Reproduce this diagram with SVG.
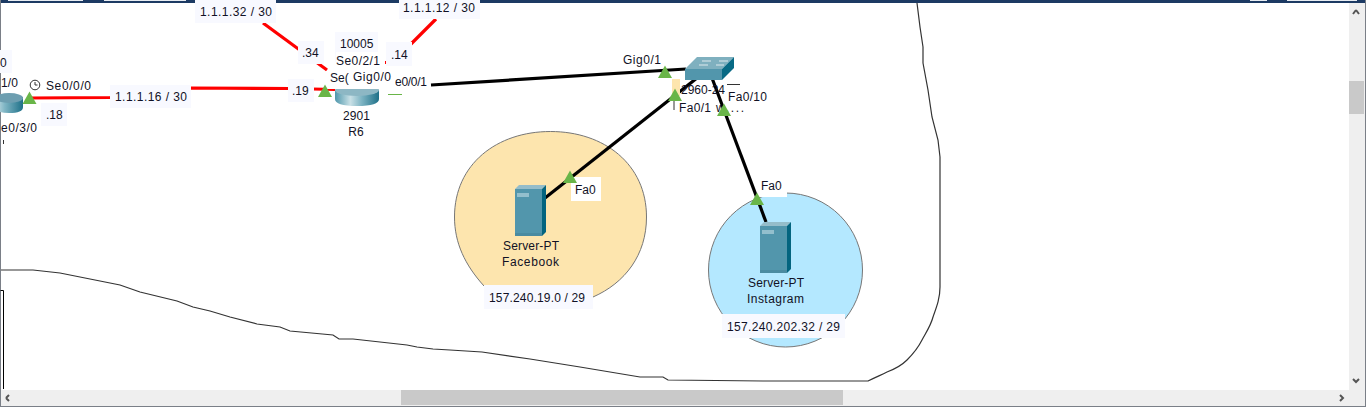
<svg xmlns="http://www.w3.org/2000/svg" width="1366" height="407" viewBox="0 0 1366 407">
<defs>
<linearGradient id="cyl" x1="0" x2="1" y1="0" y2="0"><stop offset="0" stop-color="#4f97ac"/><stop offset="0.35" stop-color="#c9e0e6"/><stop offset="0.6" stop-color="#7fb5c4"/><stop offset="1" stop-color="#1e7088"/></linearGradient>
<linearGradient id="cyl2" x1="0" x2="1" y1="0" y2="0"><stop offset="0" stop-color="#c9e0e6"/><stop offset="0.35" stop-color="#7fb5c4"/><stop offset="1" stop-color="#1e7088"/></linearGradient>
<g id="srv"><rect x="0" y="4" width="27" height="47" fill="#5296ac"/><rect x="0" y="48" width="27" height="3" fill="#4a8ba1"/><path d="M0 4L4 0H31L27 4Z" fill="#95bdca"/><path d="M27 4L31 0V47L27 51Z" fill="#03647f"/><rect x="2" y="8" width="12" height="4" fill="#93bfcd"/></g>
<polygon id="tri" points="-7,6 0,-6.500 7,6" fill="#69b548"/>
</defs>
<style>
text{font-family:"Liberation Sans",Arial,sans-serif;font-size:12px;fill:#111125}
.m{text-anchor:middle}
.red{stroke:#f00;stroke-width:3.200;fill:none}
.blk{stroke:#000;stroke-width:3.200;fill:none}
.lb{fill:#f8f9ff}
.wb{fill:#fff}
</style>
<rect width="1366" height="407" fill="#fff"/>
<g id="window-chrome">
<rect x="0" y="0" width="1366" height="3" fill="#1c3a63"/>
<path d="M8 .5H83M104 .5H186M1250 .5H1267M1287 .5H1357" stroke="#e8edf3"/>
<rect x="1" y="390" width="1364" height="16" fill="#efefef"/>
<rect x="1349" y="3" width="16" height="403" fill="#efefef"/>
<rect x="401" y="390" width="442" height="15" fill="#c9c9c9"/>
<rect x="1349" y="81" width="15" height="33" fill="#c9c9c9"/>
<path d="M6 398L9 395M6 398L9 401M1356 10L1353 14M1356 10L1359 14M1353 379L1356 382L1359 379M1340 395L1343 398L1340 401" stroke="#555" stroke-width="2" fill="none"/>
<path d="M.5 0V407M1365.500 0V407M0 406.500H1366" stroke="#7a7f87" fill="none"/>
<path d="M.5 290.500H3.500V389" stroke="#000" fill="none"/>
</g>
<g id="area-outline"><path d="M1 270H33L60 273L120 285L140 292L177 301L193 307L210 311L230 317L257 324L280 327L290 331L333 335L339 339H353L407 345L417 347L433 349L450 350L482 352L530 359L580 367L640 377H663L668 380L763 381H868C876 377 881 375 887 372C895 369 901 366 907 360C914 353 918 348 922 340C927 331 931 325 933 317C937 306 940 298 940 287V157L938 140L932 117L928 90L923 63V47L920 27L917 3" fill="none" stroke="#333" stroke-width="1.200"/></g>
<g id="area-facebook"><path d="M454.500 217C454.500 164 497 131.500 550.500 131.500C604 131.500 646.500 164 646.500 217C646.500 255 625 283 593 297L484 286C465 265 454.500 243 454.500 217Z" fill="#fde5ae" stroke="#777"/></g>
<g id="area-instagram"><ellipse cx="785.500" cy="270" rx="77" ry="77" fill="#b4e8ff" stroke="#777"/></g>
<g id="connectors">
<path class="red" d="M30 98L110 97.500L190 88L290 88.500L335 89.500"/>
<path class="red" d="M263 23L327 70"/>
<path class="red" d="M436 19L405 50"/>
<path d="M385.500 61V64" stroke="#f00"/>
<path class="blk" d="M431 85L686 69"/>
<path class="blk" d="M697 78L545 198"/>
<path class="blk" d="M712 78L766 222"/>
</g>
<g id="R5"><path d="M-5 97V107Q-5 113 9 113Q23 113 23 107V97Z" fill="url(#cyl2)"/><ellipse cx="9" cy="98" rx="14" ry="5" fill="#6d9eb0"/></g>
<g id="R6"><path d="M335 90V99Q335 106 357 106Q379 106 379 99V90Z" fill="url(#cyl)"/><ellipse cx="357" cy="90" rx="22" ry="6" fill="#8db7c4"/><text x="343" y="120" textLength="27">2901</text><text class="m" x="356" y="136">R6</text></g>
<g id="switch"><rect x="685" y="69" width="37" height="11" fill="#5296ac"/><path d="M685 69L697 57H734L722 69Z" fill="#7fb0bf"/><path d="M722 69L734 57V68L722 80Z" fill="#086a85"/><path d="M702 61H711M719 61H728M699 65H708M716 65H724" stroke="#dfeaee"/></g>
<g id="facebook"><use href="#srv" x="515" y="185"/><text x="503" y="250" textLength="56">Server-PT</text><text x="502" y="266" textLength="57">Facebook</text></g>
<g id="instagram"><use href="#srv" x="760" y="222"/><text x="748" y="287" textLength="56">Server-PT</text><text x="747" y="303" textLength="57">Instagram</text></g>
<g id="labels">
<rect class="lb" x="195" y="0" width="81" height="23"/><text x="200" y="16" textLength="72">1.1.1.32 / 30</text>
<rect class="lb" x="399" y="0" width="81" height="19"/><text x="403" y="12" textLength="72">1.1.1.12 / 30</text>
<rect class="lb" x="298" y="41" width="26" height="23"/><text x="302" y="57">.34</text>
<rect class="lb" x="335" y="32" width="43" height="30"/><text x="340" y="48">10005</text>
<rect class="lb" x="386" y="42" width="26" height="24"/><text x="391" y="59">.14</text>
<rect class="wb" x="336" y="52" width="46" height="16"/><text x="336" y="65" textLength="44">Se0/2/1</text>
<rect class="wb" x="326" y="71" width="24" height="18"/><text x="330" y="82">Se(</text>
<rect class="wb" x="349" y="66" width="43" height="23"/><text x="353" y="81" textLength="38">Gig0/0</text>
<text x="395" y="86" textLength="32">e0/0/1</text>
<path d="M388 94.500H402" stroke="#69b548"/>
<rect class="lb" x="110" y="85" width="81" height="23"/><text x="115" y="101" textLength="72">1.1.1.16 / 30</text>
<rect class="lb" x="288" y="79" width="26" height="23"/><text x="292" y="95">.19</text>
<rect class="lb" x="41" y="103" width="26" height="23"/><text x="46" y="119">.18</text>
<text x="46" y="90" textLength="45">Se0/0/0</text>
<rect class="lb" x="0" y="50" width="12" height="23"/><text x="0" y="67">0</text>
<text x="1" y="87" textLength="17">1/0</text>
<text x="1" y="132" textLength="36">e0/3/0</text>
<path d="M3.500 140V144" stroke="#333"/>
<g fill="none" stroke="#333"><circle cx="35" cy="85" r="4.800"/><path d="M35 82V85H37.500"/></g>
<text x="623" y="64" textLength="38">Gig0/1</text>
<rect x="672" y="79" width="8" height="17" fill="#fde5ae"/>
<text x="681" y="94" textLength="44">2960-24</text>
<rect class="wb" x="725" y="85" width="30" height="18"/>
<path d="M727 84.500H740" stroke="#333"/>
<text x="728" y="101" textLength="39">Fa0/10</text>
<path d="M674 100V110" stroke="#333"/>
<text x="679" y="112" textLength="32">Fa0/1</text>
<text x="716" y="112" textLength="28">w....</text>
<rect class="wb" x="571" y="177" width="30" height="24"/><text x="575" y="194">Fa0</text>
<rect class="wb" x="757" y="177" width="30" height="20"/><text x="761" y="190">Fa0</text>
<rect class="lb" x="484" y="285" width="109" height="24"/><text x="489" y="302" textLength="96">157.240.19.0 / 29</text>
<rect class="lb" x="722" y="314" width="123" height="24"/><text x="727" y="331" textLength="113">157.240.202.32 / 29</text>
</g>
<g id="link-lights">
<use href="#tri" x="29.500" y="98"/><use href="#tri" x="325" y="91"/><use href="#tri" x="665" y="72"/><use href="#tri" x="675" y="95"/><use href="#tri" x="724" y="110"/><use href="#tri" x="570" y="177"/><use href="#tri" x="757" y="199"/>
</g>
</svg>
